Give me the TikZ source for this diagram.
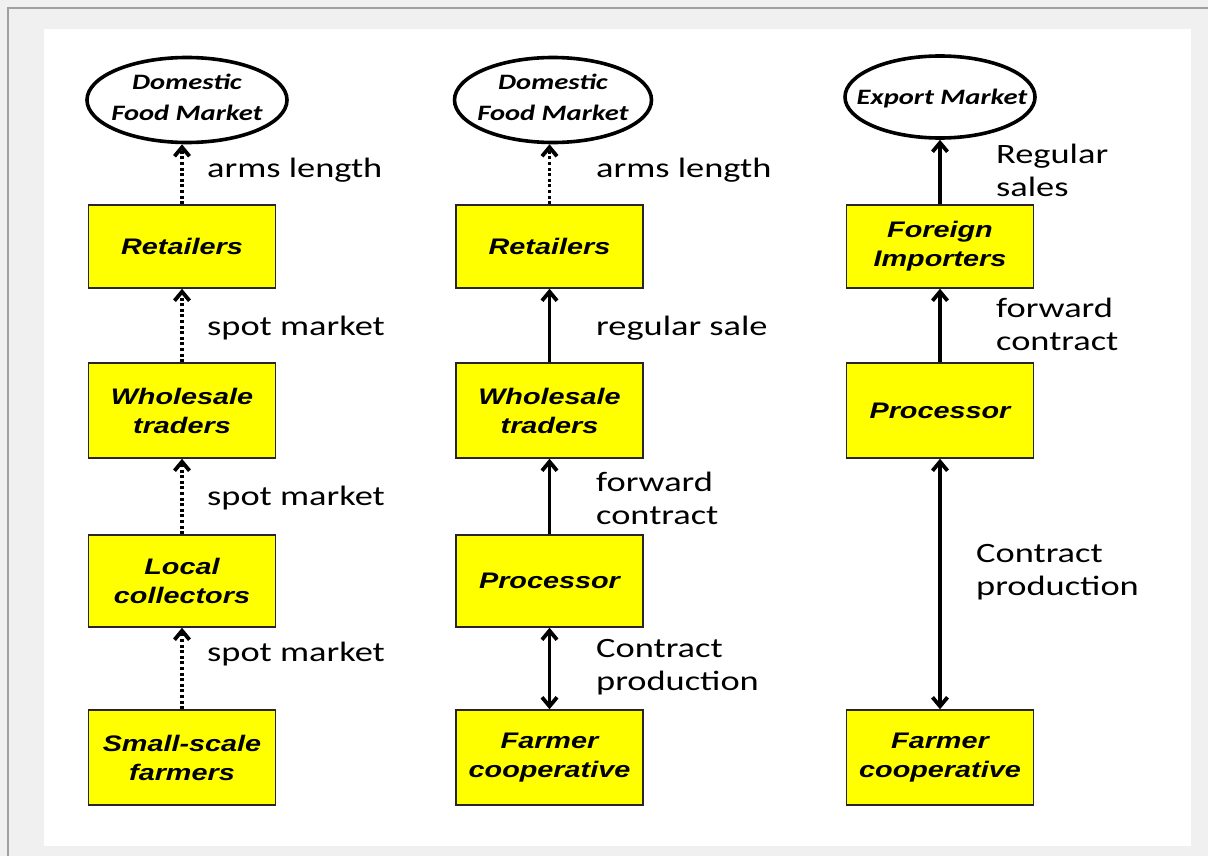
\documentclass[tikz,border=0pt]{standalone}
\usepackage{fontspec}
\newfontfamily\boxfont[FakeStretch=1.28]{Liberation Sans}
\newfontfamily\lblfont[FakeStretch=1.3]{Carlito}
\usetikzlibrary{shapes.geometric,arrows.meta}
\definecolor{bggray}{HTML}{F0F0F0}
\definecolor{framegray}{HTML}{A0A0A0}
\definecolor{boxyellow}{HTML}{FFFF00}
\begin{document}
\begin{tikzpicture}[x=1pt,y=-1pt,
  stepbox/.style={draw=black!85, line width=1.5pt, fill=boxyellow, minimum width=187pt, inner sep=0pt, align=center, font=\boxfont\bfseries\itshape\fontsize{22.5}{29}\selectfont},
  mkt/.style={draw=black, line width=3.6pt, ellipse, inner sep=0pt},
  mkttext/.style={inner sep=0pt, align=center, font=\lblfont\bfseries\itshape\fontsize{22}{31}\selectfont},
  lbl/.style={inner sep=0pt, align=left, font=\lblfont\fontsize{28}{33}\selectfont},
  tipbarb/.tip={Straight Barb[length=9pt,width=15pt]},
  flow/.style={line width=3.8pt, -tipbarb},
  dotflow/.style={flow, dash pattern=on 3pt off 2.6pt},
  twoway/.style={line width=3.8pt, tipbarb-tipbarb},
]
\useasboundingbox (0,0) rectangle (1208,856);
\fill[bggray] (0,0) rectangle (1208,856);
\fill[white] (44,29) rectangle (1191,846);
\draw[framegray, line width=2pt] (8,856) -- (8,8) -- (1208,8);

% markets
\node[mkt, minimum width=200pt, minimum height=85pt] (e1) at (187,100) {};
\node[mkttext] (e1t) at (187,97) {Domestic\\Food Market};
\node[mkt, minimum width=197pt, minimum height=85pt] (e2) at (553,100) {};
\node[mkttext] (e2t) at (553,97) {Domestic\\Food Market};
\node[mkt, minimum width=190pt, minimum height=82pt] (e3) at (940,97) {};
\node[mkttext] (e3t) at (942,99) {Export Market};

% column 1
\node[stepbox, minimum height=83pt] (r1) at (182,246.5) {Retailers};
\node[stepbox, minimum height=95pt] (w1) at (182,410.5) {Wholesale\\traders};
\node[stepbox, minimum height=92pt] (l1) at (182,581) {Local\\collectors};
\node[stepbox, minimum height=95pt] (f1) at (182,757.5) {Small-scale\\farmers};

% column 2
\node[stepbox, minimum height=83pt] (r2) at (549.5,246.5) {Retailers};
\node[stepbox, minimum height=95pt] (w2) at (549.5,410.5) {Wholesale\\traders};
\node[stepbox, minimum height=92pt] (p2) at (549.5,581) {Processor};
\node[stepbox, minimum height=95pt] (f2) at (549.5,757.5) {Farmer\\cooperative};

% column 3
\node[stepbox, minimum height=83pt] (i3) at (940,246.5) {Foreign\\Importers};
\node[stepbox, minimum height=95pt] (p3) at (940,410.5) {Processor};
\node[stepbox, minimum height=95pt] (f3) at (940,757.5) {Farmer\\cooperative};

% connectors column 1
\draw[dotflow] (r1.north) -- (r1.north |- e1.south);
\draw[dotflow] (w1.north) -- (r1.south);
\draw[dotflow] (l1.north) -- (w1.south);
\draw[dotflow] (f1.north) -- (l1.south);

% connectors column 2
\draw[dotflow] (r2.north) -- (r2.north |- e2.south);
\draw[flow] (w2.north) -- (r2.south);
\draw[flow] (p2.north) -- (w2.south);
\draw[twoway] (p2.south) -- (f2.north);

% connectors column 3
\draw[flow] (i3.north) -- (i3.north |- e3.south);
\draw[flow] (p3.north) -- (i3.south);
\draw[twoway] (p3.south) -- (f3.north);

% labels column 1
\node[lbl, anchor=base west] (a1) at (207,178) {arms length};
\node[lbl, anchor=base west] (s1) at (207,335) {spot market};
\node[lbl, anchor=base west] (s2) at (207,505) {spot market};
\node[lbl, anchor=base west] (s3) at (207,661) {spot market};

% labels column 2
\node[lbl, anchor=base west] (a2) at (596,178) {arms length};
\node[lbl, anchor=base west] (rs2) at (596,335) {regular sale};
\node[lbl, anchor=north west] (fc2) at (596,472) {forward\\contract};
\node[lbl, anchor=north west] (cp2) at (596,639) {Contract\\production};

% labels column 3
\node[lbl, anchor=north west] (rs3) at (996,144) {Regular\\sales};
\node[lbl, anchor=north west] (fc3) at (996,298) {forward\\contract};
\node[lbl, anchor=north west] (cp3) at (976,544) {Contract\\production};
\end{tikzpicture}
\end{document}
